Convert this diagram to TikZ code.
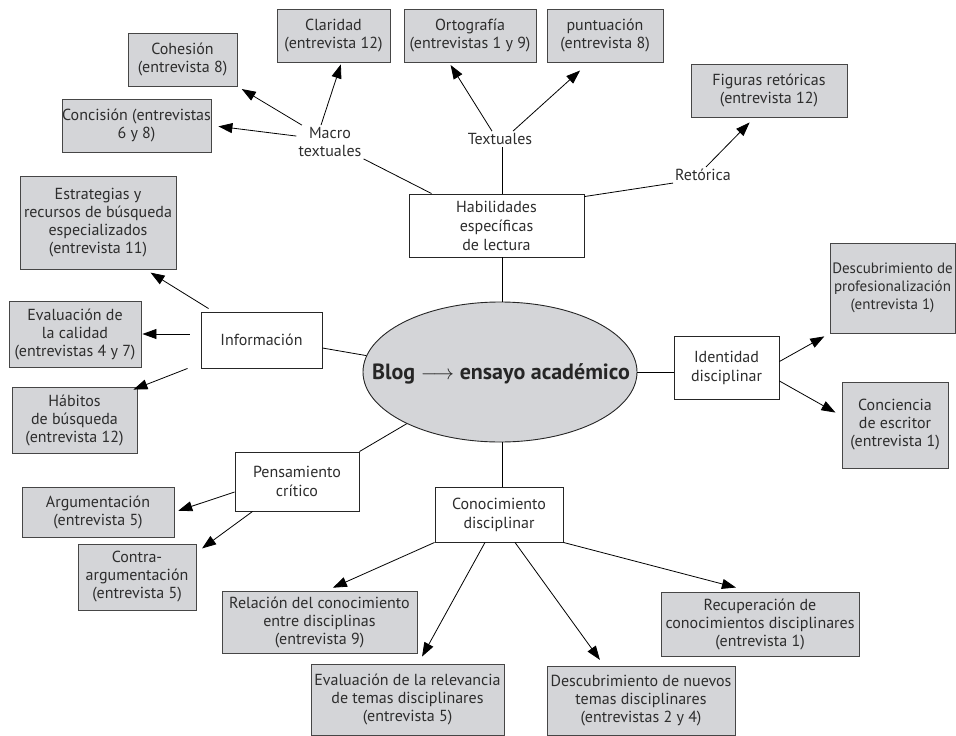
\documentclass[tikz,border=0pt]{standalone}
\usepackage{fontspec}
\setmainfont{PT Sans}
\usetikzlibrary{shapes.geometric,arrows.meta}
\definecolor{boxgray}{RGB}{212,213,216}
\definecolor{txtgray}{RGB}{45,45,45}
\definecolor{edgegray}{RGB}{70,70,70}
\tikzset{
  gbox/.style={draw=edgegray, line width=0.9pt, fill=boxgray, inner sep=0pt, align=center, text=txtgray, font=\fontsize{16}{18}\selectfont},
  wbox/.style={draw=black!85, line width=0.9pt, fill=white, inner sep=0pt, align=center, text=txtgray, font=\fontsize{16}{19}\selectfont},
  lbl/.style={inner sep=2pt, align=center, text=txtgray, font=\fontsize{16}{18}\selectfont},
  conn/.style={draw=black, line width=0.8pt},
  arr/.style={conn, -{Triangle[length=14pt,width=10pt]}},
}
\begin{document}
\begin{tikzpicture}[x=1pt,y=-1pt]
\useasboundingbox (0,0) rectangle (956,736);
% top boxes
\node[gbox, minimum width=113, minimum height=53] (clar) at (333.5,35.5) {Claridad\\(entrevista 12)};
\node[gbox, minimum width=109, minimum height=53] (cohe) at (182.5,59.5) {Cohesión\\(entrevista 8)};
\node[gbox, minimum width=149, minimum height=53] (conc) at (136.5,125.5) {Concisión (entrevistas\\6 y 8)};
\node[gbox, minimum width=132, minimum height=53] (orto) at (470,35.5) {Ortografía\\(entrevistas 1 y 9)};
\node[gbox, minimum width=116, minimum height=53] (punt) at (605,35.5) {puntuación\\(entrevista 8)};
\node[gbox, minimum width=156, minimum height=53] (figu) at (769,90.5) {Figuras retóricas\\(entrevista 12)};
% labels
\node[lbl] (macro) at (330,142) {Macro\\textuales};
\node[lbl] (textu) at (500,139) {Textuales};
\node[lbl] (ret) at (703,175) {Retórica};
% central
\node[wbox, minimum width=175, minimum height=63] (habi) at (496.5,225.5) {Habilidades\\específicas\\de lectura};
\node[ellipse, draw=black!85, line width=0.9pt, fill=boxgray, minimum width=274, minimum height=140, inner sep=0pt] (ell) at (500,372) {};
\node[font=\fontsize{22}{24}\selectfont\bfseries, text=black!85, inner sep=0pt] (elltxt) at (501,374) {Blog $\longrightarrow$ ensayo académico};
\node[wbox, minimum width=105, minimum height=63] (iden) at (726.5,367.5) {Identidad\\disciplinar};
\node[gbox, minimum width=125, minimum height=90, font=\fontsize{15}{18}\selectfont] (desc) at (892.5,288) {Descubrimiento de\\profesionalización\\(entrevista 1)};
\node[gbox, minimum width=106, minimum height=86] (conci) at (895,425) {Conciencia\\de escritor\\(entrevista 1)};
% left
\node[wbox, minimum width=121, minimum height=56] (info) at (261.5,340) {Información};
\node[gbox, minimum width=156, minimum height=93] (estr) at (98,222.5) {Estrategias y\\recursos de búsqueda\\especializados\\(entrevista 11)};
\node[gbox, minimum width=132, minimum height=66] (eval) at (75,334) {Evaluación de\\la calidad\\(entrevistas 4 y 7)};
\node[gbox, minimum width=125, minimum height=66] (habit) at (74.5,420) {Hábitos\\de búsqueda\\(entrevista 12)};
\node[wbox, minimum width=124, minimum height=59] (pens) at (297,481.5) {Pensamiento\\crítico};
\node[gbox, minimum width=152, minimum height=50] (argu) at (98,512) {Argumentación\\(entrevista 5)};
\node[gbox, minimum width=118, minimum height=66] (contra) at (137,577) {Contra-\\argumentación\\(entrevista 5)};
% bottom
\node[wbox, minimum width=128, minimum height=55] (cono) at (499,514.5) {Conocimiento\\disciplinar};
\node[gbox, minimum width=195, minimum height=62] (rela) at (319.5,622) {Relación del conocimiento\\entre disciplinas\\(entrevista 9)};
\node[gbox, minimum width=193, minimum height=71] (evrel) at (407.5,699.5) {Evaluación de la relevancia\\de temas disciplinares\\(entrevista 5)};
\node[gbox, minimum width=188, minimum height=69] (dnue) at (641,700.5) {Descubrimiento de nuevos\\temas disciplinares\\(entrevistas 2 y 4)};
\node[gbox, minimum width=198, minimum height=64] (recu) at (760,624) {Recuperación de\\conocimientos disciplinares\\(entrevista 1)};

% connectors: Macro textuales
\draw[arr, shorten >=5pt] (macro) -- (cohe.south east);
\draw[arr, shorten >=7pt] (macro.170) -- (conc.east);
\draw[arr, shorten >=2pt] ([xshift=-9pt]macro.north) -- ([xshift=8pt]clar.south);
\draw[conn] (macro.south east) -- ([xshift=23pt]habi.north west);
% Textuales
\draw[arr, shorten >=3pt] ([xshift=-8pt]textu.north) -- ([xshift=-21pt]orto.south);
\draw[arr, shorten >=12pt] ([xshift=13pt]textu.north) -- ([xshift=-16pt]punt.south);
\draw[conn] ([xshift=2pt]textu.south) -- ([xshift=2pt]textu.south |- habi.north);
% Retórica
\draw[arr, shorten >=7pt] ([xshift=3pt]ret.north) -- ([xshift=-14.5pt]figu.south);
\draw[conn] (ret.south west) -- ([yshift=-3pt]habi.north east);
% central spokes
\draw[conn] ([xshift=2pt]ell.north) -- ([xshift=2pt]ell.north |- habi.south);
\draw[conn] ([xshift=2pt]ell.south) -- ([xshift=2pt]ell.south |- cono.north);
\draw[conn] (ell.east) -- (ell.east -| iden.west);
% Identidad
\draw[arr, shorten >=6pt] ([yshift=6pt]iden.east) -- (desc.south west);
\draw[arr, shorten >=7pt] ([yshift=-13.5pt]iden.east) -- ([yshift=9pt]conci.west);
% Información
\draw[conn] ([yshift=-8pt]info.east) -- (ell.173);
\draw[arr, shorten >=6pt] ([xshift=8pt,yshift=3pt]info.north west) -- ([xshift=-31pt]estr.south east);
\draw[arr, shorten >=1pt] ([xshift=-11pt]info.west |- eval.east) -- (eval.east);
\draw[arr] ([xshift=-13pt]info.south west) -- ([xshift=-4pt,yshift=-3pt]habit.north east);
% Pensamiento
\draw[conn] (pens.north east) -- (ell.209);
\draw[arr, shorten >=4pt] ([yshift=-10.5pt]pens.west) -- (argu.east);
\draw[arr, shorten >=7pt] ([xshift=18pt]pens.south west) -- ([yshift=-9pt]contra.north east);
% Conocimiento
\draw[arr, shorten >=7pt] (cono.south west) -- ([xshift=7pt]rela.north);
\draw[arr, shorten >=8pt] ([xshift=-14pt]cono.south) -- ([xshift=10.7pt]evrel.north);
\draw[arr, shorten >=7pt] ([xshift=16pt]cono.south) -- ([xshift=-37pt]dnue.north);
\draw[arr, shorten >=16pt] (cono.south east) -- ([xshift=-8.6pt]recu.north);
\end{tikzpicture}
\end{document}
